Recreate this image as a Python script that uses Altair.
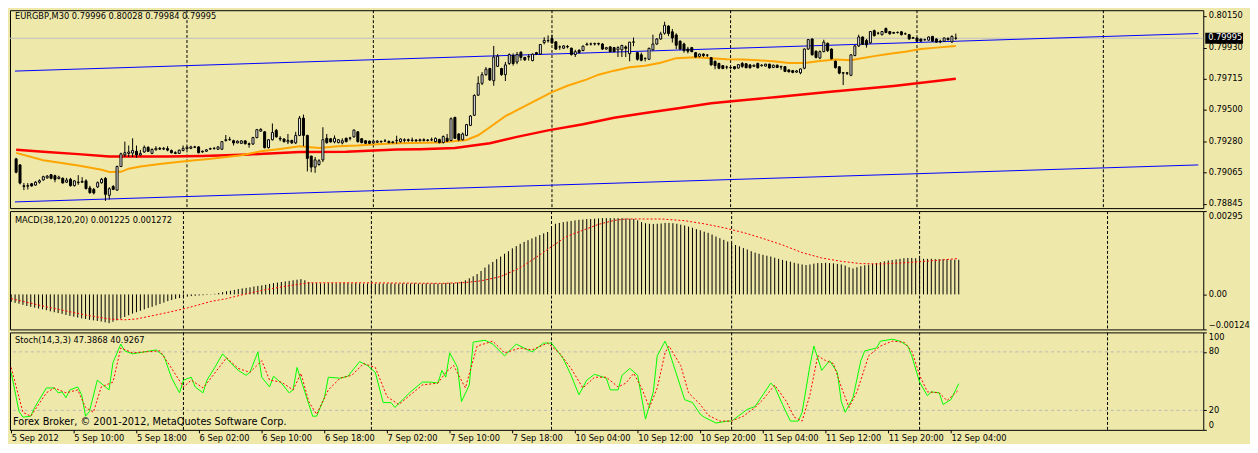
import altair as alt
import pandas as pd

# ---------------- data (prices as points of 1e-5 above 0.79000) ----------------
BASE = 0.79

open_pts = [157,115,-30,-33,-16,-25,-5,11,25,47,
            40,20,22,-5,15,-29,-5,-5,4,-45,
            -55,-38,-9,22,-96,-35,-60,104,185,195,
            197,210,184,205,237,195,220,230,225,228,
            215,200,195,215,228,230,240,240,205,210,
            225,228,224,224,285,290,283,268,265,282,
            262,260,305,350,345,235,290,355,300,295,
            275,285,268,320,440,320,177,100,118,150,
            300,297,275,270,268,300,300,310,345,297,
            283,280,268,272,278,280,278,270,283,277,
            285,290,285,288,283,290,285,288,277,292,
            270,300,285,445,330,290,320,390,460,600,
            682,742,785,700,800,785,742,820,875,830,
            898,862,865,840,895,885,965,978,993,970,
            935,926,938,926,882,912,910,950,955,955,
            958,955,920,935,930,915,915,935,888,968,
            895,880,855,849,915,955,990,1030,1080,1040,
            1018,975,955,920,930,895,870,885,878,860,
            835,820,805,795,792,798,788,820,818,810,
            800,820,805,802,815,792,808,795,798,775,
            770,760,755,787,920,990,905,858,902,960,
            920,835,797,755,755,738,875,942,1004,980,
            963,1048,1030,1020,1063,1042,1030,1035,1040,1026,
            1020,995,997,990,985,982,1008,990,975,975,
            995,970,996]
close_pts = [64,-11,-34,-29,-31,-5,5,33,37,22,
             15,30,-10,10,-29,4,-8,0,-50,-78,
             -80,-8,15,-89,-50,-55,104,192,200,205,
             215,184,195,237,210,222,230,225,230,218,
             200,195,217,230,238,240,238,200,210,220,
             228,230,240,277,290,292,268,280,282,262,
             258,305,360,362,235,290,340,310,295,277,
             285,268,320,440,320,160,100,150,144,290,
             270,275,300,290,283,277,303,357,277,270,
             265,265,280,280,275,282,270,275,286,295,
             290,285,288,283,290,285,288,290,300,270,
             312,280,436,300,290,330,395,455,598,682,
             742,780,705,865,870,742,810,882,820,882,
             862,845,868,885,885,952,980,980,963,920,
             935,942,935,882,902,897,940,955,955,958,
             955,920,930,902,902,930,945,925,968,970,
             849,842,855,925,955,990,1025,1085,1028,997,
             947,920,909,905,902,865,885,875,878,810,
             805,787,785,795,790,784,812,800,790,790,
             808,790,808,815,789,808,792,798,765,762,
             758,768,782,920,986,880,862,902,968,909,
             853,791,753,753,752,880,942,1004,953,950,
             1042,1013,1030,1042,1035,1026,1035,1036,1020,1026,
             990,1000,975,975,985,1004,975,968,970,997,
             985,1008,995]
high_pts = [164,120,-11,-11,-10,2,15,40,45,50,
            47,40,28,25,25,10,44,30,15,-30,
            -45,0,25,30,-40,-25,110,200,277,250,
            300,250,220,250,245,230,245,240,240,245,
            222,210,222,250,245,248,248,245,215,225,
            235,240,245,280,323,310,290,285,287,287,
            270,310,365,370,350,295,403,365,315,300,
            330,290,345,455,465,325,177,170,155,377,
            330,300,320,295,300,305,310,362,350,300,
            287,285,285,288,285,295,285,282,318,300,
            300,298,305,295,298,300,295,305,305,297,
            320,330,445,450,335,340,400,460,605,731,
            760,795,790,942,885,790,830,890,890,900,
            905,865,885,890,900,955,1002,1015,1020,975,
            945,948,948,930,915,918,945,965,965,965,
            965,962,935,940,935,940,950,945,970,1000,
            900,895,862,930,1020,995,1040,1110,1085,1060,
            1030,980,965,935,935,900,890,890,885,865,
            840,825,808,805,800,800,815,830,822,815,
            812,825,815,818,818,812,812,805,800,778,
            775,775,785,925,990,995,910,910,985,965,
            925,840,800,760,760,885,948,1020,1008,990,
            1045,1055,1040,1045,1070,1045,1040,1042,1045,1035,
            1025,1005,1000,992,992,1008,1012,995,985,1000,
            1000,1015,1028]
low_pts = [57,-20,-60,-56,-36,-30,-15,5,20,15,
           -5,15,-15,-10,-35,-35,-23,-10,-55,-85,
           -90,-45,-15,-135,-125,-60,-65,100,170,170,
           170,165,178,200,205,190,215,218,218,210,
           195,190,192,210,222,225,232,195,200,205,
           220,222,220,220,277,283,250,265,260,258,
           235,255,300,345,230,230,285,305,280,270,
           260,262,260,315,245,70,64,60,110,135,
           262,270,265,265,258,272,285,305,270,265,
           262,262,262,268,270,275,265,265,262,270,
           272,275,275,275,278,278,278,280,272,265,
           265,275,280,295,280,285,315,385,455,595,
           670,735,700,665,795,735,698,810,805,815,
           840,838,840,835,880,880,953,965,955,915,
           915,920,925,875,865,890,905,945,945,945,
           945,915,915,898,898,865,865,865,835,940,
           840,835,835,845,910,950,985,1020,1010,965,
           920,915,895,890,898,860,862,865,865,805,
           780,780,780,780,780,778,784,790,788,785,
           795,786,798,798,785,788,788,776,760,758,
           752,755,745,780,915,875,855,850,898,900,
           848,785,745,670,740,732,870,935,948,930,
           958,1008,1020,1015,1030,1020,1025,1028,1015,1020,
           985,990,970,970,978,978,970,965,960,970,
           980,962,984]

ma_fast_bar = [0,7,16,22,24,27,29,32,37,41,46,49,53,58,63,68,73,78,83,88,
               93,98,109,116,119,122,126,130,134,138,142,147,150,154,158,162,166,170,175,179,
               183,187,191,195,199,203,207,211,215,217,221,225,229,233,237,242]
ma_fast_pts = [199,148,111,82,66,67,89,104,122,133,148,155,166,182,210,226,244,232,244,250,
               259,266,270,288,321,377,454,510,565,621,665,709,742,770,794,804,825,857,864,857,
               849,847,842,835,824,824,837,847,842,853,871,887,902,920,930,942]
ma_slow_bar = [0,7,16,24,39,48,60,73,85,98,104,113,122,129,137,146,154,162,171,179,187,196,209,226,242]
ma_slow_pts = [220,207,190,174,174,177,188,204,207,222,224,232,266,310,355,398,443,476,510,543,565,587,621,664,714]

chan_bar = [-0.3, 304.45]
chan_upper_pts = [767, 1028]
chan_lower_pts = [-142, 115]
bid_price = 0.79995

# MACD in units of 1e-5
macd_hist = [-27,-30,-33,-37,-41,-44,-47,-50,-53,-56,
             -60,-63,-66,-69,-73,-76,-79,-82,-85,-87,
             -90,-92,-94,-96,-99,-102,-97,-92,-86,-80,
             -74,-68,-63,-58,-53,-48,-44,-39,-34,-29,
             -24,-20,-16,-13,-10,-8,-6,-5,-4,-3,
             -2,-1,2,5,8,11,13,16,19,21,
             23,25,28,30,32,34,37,40,42,44,
             46,48,50,52,54,50,44,41,40,39,
             39,40,40,39,40,41,40,39,40,39,
             38,39,39,38,39,38,38,39,38,38,
             39,38,38,39,38,38,39,38,39,38,
             39,40,41,40,42,45,50,57,64,72,
             83,95,106,115,125,134,144,153,163,171,
             179,186,192,198,204,210,216,221,240,250,
             253,256,258,260,262,264,265,267,267,268,
             269,270,270,270,270,270,270,269,268,267,
             262,256,252,250,249,250,251,253,253,252,
             250,247,244,240,236,231,227,222,218,212,
             205,199,193,187,181,175,170,164,159,153,
             148,144,140,137,134,130,126,122,119,116,
             112,109,106,104,106,109,111,111,112,111,
             110,108,106,102,96,92,96,100,103,105,
             108,111,114,117,120,122,124,126,128,129,
             129,128,127,126,126,126,125,125,125,124,
             123,123,122.5]
macd_sig_bar = [0,9,19,25,29,32,39,45,51,55,60,65,71,76,90,110,116,120,125,130,
                135,138,142,146,150,154,157,166,172,177,182,187,192,197,202,207,212,217,222,227,
                232,237,242]
macd_sig = [-15,-44,-73,-87,-90,-87,-67,-48,-25,-15,2,17,31,41,41,39,42,48,63,94,
            140,169,206,227,248,262,267,267,261,250,236,219,198,175,148,129,117,109,108,111,
            116,121,127.2]

stoch_k_bar = [0,2,3,5,6,9,11,12,13,14,15,17,18,19,20,22,25,26,28,29,
               31,34,37,39,41,43,44,46,47,49,50,52,54,56,58,60,61,63,64,66,
               67,69,71,72,73,75,77,78,80,81,84,86,89,91,93,95,97,98,100,102,
               105,107,109,110,111,112,114,115,117,118,121,123,126,129,131,133,136,138,141,143,
               145,147,149,152,153,155,156,158,160,162,164,165,167,168,170,172,174,176,177,
               180,183,184,188,190,192,194,195,197,199,201,202,204,205,207,209,211,212,213,215,
               217,218,221,222,225,227,229,230,232,234,235,237,238,240,242]
stoch_k = [59,19,13,14,23,43,43,38,39,33,41,44,36,14,19,51,41,69,88,81,
           78,80,82,76,53,38,51,54,44,38,51,64,78,69,61,56,59,80,54,44,
           55,48,38,41,64,39,14,14,33,54,53,55,70,66,59,28,28,23,31,39,
           49,49,48,61,54,79,64,29,46,90,92,88,76,88,84,80,89,89,73,56,
           36,51,57,53,41,41,56,63,56,11,39,76,91,81,56,31,28,16,13,
           7,9,9,21,24,36,48,44,26,9,9,18,66,86,61,71,59,29,18,33,
           71,81,84,91,93,91,86,76,49,35,39,38,26,31,47.3868]
stoch_d_bar = [0,3,5,9,11,14,17,19,21,23,26,28,31,34,38,41,44,46,49,51,
               55,58,61,64,66,69,72,74,76,78,81,84,87,90,93,96,99,102,105,109,
               111,113,116,119,123,126,130,133,137,140,143,146,149,152,155,157,159,161,163,165,
               167,168,171,173,176,178,181,184,187,190,192,195,198,200,202,204,206,208,210,212,
               214,216,219,222,225,228,230,232,234,237,239,242]
stoch_d = [64,18,14,38,43,38,41,23,18,44,49,84,79,80,81,63,44,51,43,53,
           74,63,59,71,51,49,41,58,29,16,41,53,56,68,64,34,26,36,46,48,
           59,66,43,86,91,79,84,82,89,79,63,43,54,54,44,48,58,43,23,43,
           79,86,66,38,26,15,9,9,14,23,31,46,29,13,9,36,76,71,68,44,
           23,39,76,86,91,90,81,56,39,38,30,40.9267]
stoch_levels = [20, 80]

sep_bars = [44, 92, 138, 184, 232, 280]
label_step = 16
time_labels = ["5 Sep 2012", "5 Sep 10:00", "5 Sep 18:00", "6 Sep 02:00", "6 Sep 10:00",
               "6 Sep 18:00", "7 Sep 02:00", "7 Sep 10:00", "7 Sep 18:00", "10 Sep 04:00",
               "10 Sep 12:00", "10 Sep 20:00", "11 Sep 04:00", "11 Sep 12:00", "11 Sep 20:00",
               "12 Sep 04:00"]
price_ticks = [0.80150, 0.79930, 0.79715, 0.79500, 0.79280, 0.79065, 0.78845]
macd_ticks = [0.00295, 0.0, -0.00124]
stoch_ticks = [100, 80, 20, 0]

header_text = "EURGBP,M30  0.79996 0.80028 0.79984 0.79995"
macd_text = "MACD(38,120,20) 0.001225 0.001272"
stoch_text = "Stoch(14,3,3) 47.3868 40.9267"
footer_text = "Forex Broker, \u00a9 2001-2012, MetaQuotes Software Corp."

# ---------------- tables ----------------
def pr(v):
    return round(BASE + v / 1e5, 5)

n = len(open_pts)
candles = pd.DataFrame({
    "i": list(range(n)),
    "o": [pr(v) for v in open_pts],
    "c": [pr(v) for v in close_pts],
    "h": [pr(v) for v in high_pts],
    "l": [pr(v) for v in low_pts],
})
candles["fillc"] = ["white" if c > o else "black" for o, c in zip(candles["o"], candles["c"])]

fast_df = pd.DataFrame({"i": ma_fast_bar, "p": [pr(v) for v in ma_fast_pts]})
slow_df = pd.DataFrame({"i": ma_slow_bar, "p": [pr(v) for v in ma_slow_pts]})
chan_df = pd.DataFrame({
    "i": chan_bar + chan_bar,
    "p": [pr(v) for v in chan_upper_pts] + [pr(v) for v in chan_lower_pts],
    "line": ["up", "up", "low", "low"],
})
bid_df = pd.DataFrame({"p": [bid_price], "t": [f"{bid_price:.5f}"]})
seps_df = pd.DataFrame({"i": sep_bars})
hist_df = pd.DataFrame({"i": list(range(len(macd_hist))),
                        "m": [v / 1e5 for v in macd_hist], "z": 0.0})
sig_df = pd.DataFrame({"i": macd_sig_bar, "m": [v / 1e5 for v in macd_sig]})
k_df = pd.DataFrame({"i": stoch_k_bar, "s": stoch_k})
d_df = pd.DataFrame({"i": stoch_d_bar, "s": stoch_d})
lev_df = pd.DataFrame({"s": stoch_levels})

# ---------------- styling ----------------
W = 1200
H_P, H_M, H_S = 199, 119, 98
FONT = "DejaVu Sans"
FS = 8.3
BG = "#EEE8AA"

xsc = alt.Scale(domain=[-0.3, 304.45], nice=False, zero=False)


def xenc(axis=None):
    return alt.X("i:Q", scale=xsc, axis=axis, title=None)


def yaxis(values, **kw):
    return alt.Axis(orient="right", values=values, tickSize=3, labelPadding=2,
                    domain=False, grid=False, title=None, labelFont=FONT,
                    labelFontSize=FS, labelColor="black", tickColor="black",
                    labelOverlap=False, **kw)


def txt(df_text, x, y, size=FS):
    return alt.Chart(pd.DataFrame({"t": [df_text]})).mark_text(
        align="left", baseline="middle", font=FONT, fontSize=size, color="black"
    ).encode(x=alt.value(x), y=alt.value(y), text="t:N")


def seps(axis=None):
    return alt.Chart(seps_df).mark_rule(color="black", strokeDash=[3, 2], strokeWidth=1).encode(
        x=xenc(axis))

# ---------------- price panel ----------------
psc = alt.Scale(domain=[0.78815, 0.80190], nice=False, zero=False)
paxis = yaxis(price_ticks, format=".5f", labelFlush=False)


def py(field):
    return alt.Y(field, scale=psc, axis=paxis, title=None)


bid_rule = alt.Chart(bid_df).mark_rule(color="#C0C0C0", strokeWidth=1).encode(y=py("p:Q"))
channel = alt.Chart(chan_df).mark_line(color="#0000FF", strokeWidth=1).encode(
    x=xenc(), y=py("p:Q"), detail="line:N")
slow = alt.Chart(slow_df).mark_line(color="#FF0000", strokeWidth=2.5).encode(x=xenc(), y=py("p:Q"))
fast = alt.Chart(fast_df).mark_line(color="#FFA500", strokeWidth=2).encode(x=xenc(), y=py("p:Q"))
wick = alt.Chart(candles).mark_rule(color="black", strokeWidth=1).encode(
    x=xenc(), y=py("l:Q"), y2="h:Q")
body = alt.Chart(candles).mark_bar(width=2, stroke="black", strokeWidth=1).encode(
    x=xenc(), y=py("o:Q"), y2="c:Q", fill=alt.Fill("fillc:N", scale=None))
bidbox = alt.Chart(bid_df).mark_rule(color="black", strokeWidth=11).encode(
    x=alt.value(W + 2), x2=alt.value(W + 40), y=py("p:Q"))
bidtxt = alt.Chart(bid_df).mark_text(align="left", baseline="middle", font=FONT,
                                     fontSize=FS, color="white").encode(
    x=alt.value(W + 5), y=py("p:Q"), text="t:N")

price = alt.layer(seps(), bid_rule, channel, slow, fast, wick, body,
                  txt(header_text, 5, 7), bidbox, bidtxt).properties(width=W, height=H_P)

# ---------------- MACD panel ----------------
msc = alt.Scale(domain=[-0.00124, 0.00295], nice=False, zero=False)
maxis = yaxis(macd_ticks, labelFlush=True,
              labelExpr="datum.value == 0 ? '0.00' : format(datum.value, '.5f')")
hist = alt.Chart(hist_df).mark_rule(color="black", strokeWidth=1).encode(
    x=xenc(), y=alt.Y("m:Q", scale=msc, axis=maxis, title=None), y2="z:Q")
sig = alt.Chart(sig_df).mark_line(color="#FF0000", strokeWidth=1, strokeDash=[2, 2]).encode(
    x=xenc(), y=alt.Y("m:Q", scale=msc, axis=maxis, title=None))
macd = alt.layer(seps(), hist, sig, txt(macd_text, 5, 9.5)).properties(width=W, height=H_M)

# ---------------- Stochastic panel ----------------
ssc = alt.Scale(domain=[0, 100], nice=False, zero=False)
saxis = yaxis(stoch_ticks, labelFlush=True)
label_js = "[" + ",".join(f"'{s}'" for s in time_labels) + "]"
xaxis = alt.Axis(values=[k * label_step for k in range(len(time_labels))],
                 labelExpr=f"{label_js}[round(datum.value / {label_step})]",
                 labelAlign="left", labelBaseline="top", tickSize=3, labelPadding=1,
                 domain=False, grid=False, title=None, labelFlush=False, labelOverlap=False,
                 labelBound=False, labelFont=FONT, labelFontSize=FS, labelColor="black",
                 tickColor="black")


def sy(field):
    return alt.Y(field, scale=ssc, axis=saxis, title=None)


levels = alt.Chart(lev_df).mark_rule(color="#B8B8B8", strokeDash=[3, 3], strokeWidth=1).encode(
    y=sy("s:Q"))
kline = alt.Chart(k_df).mark_line(color="#00FF00", strokeWidth=1).encode(
    x=xenc(xaxis), y=sy("s:Q"))
dline = alt.Chart(d_df).mark_line(color="#FF0000", strokeWidth=1, strokeDash=[2, 2]).encode(
    x=xenc(xaxis), y=sy("s:Q"))
stoch = alt.layer(seps(xaxis), levels, kline, dline, txt(stoch_text, 5, 9),
                  txt(footer_text, 3, 90, 9.8)).properties(width=W, height=H_S)

chart = alt.vconcat(price, macd, stoch, spacing=3, bounds="flush").properties(
    padding=0, background=BG
).configure_view(stroke="black", strokeWidth=1, fill=BG)

chart.save("out.html", embed_options={"renderer": "svg", "actions": False})
